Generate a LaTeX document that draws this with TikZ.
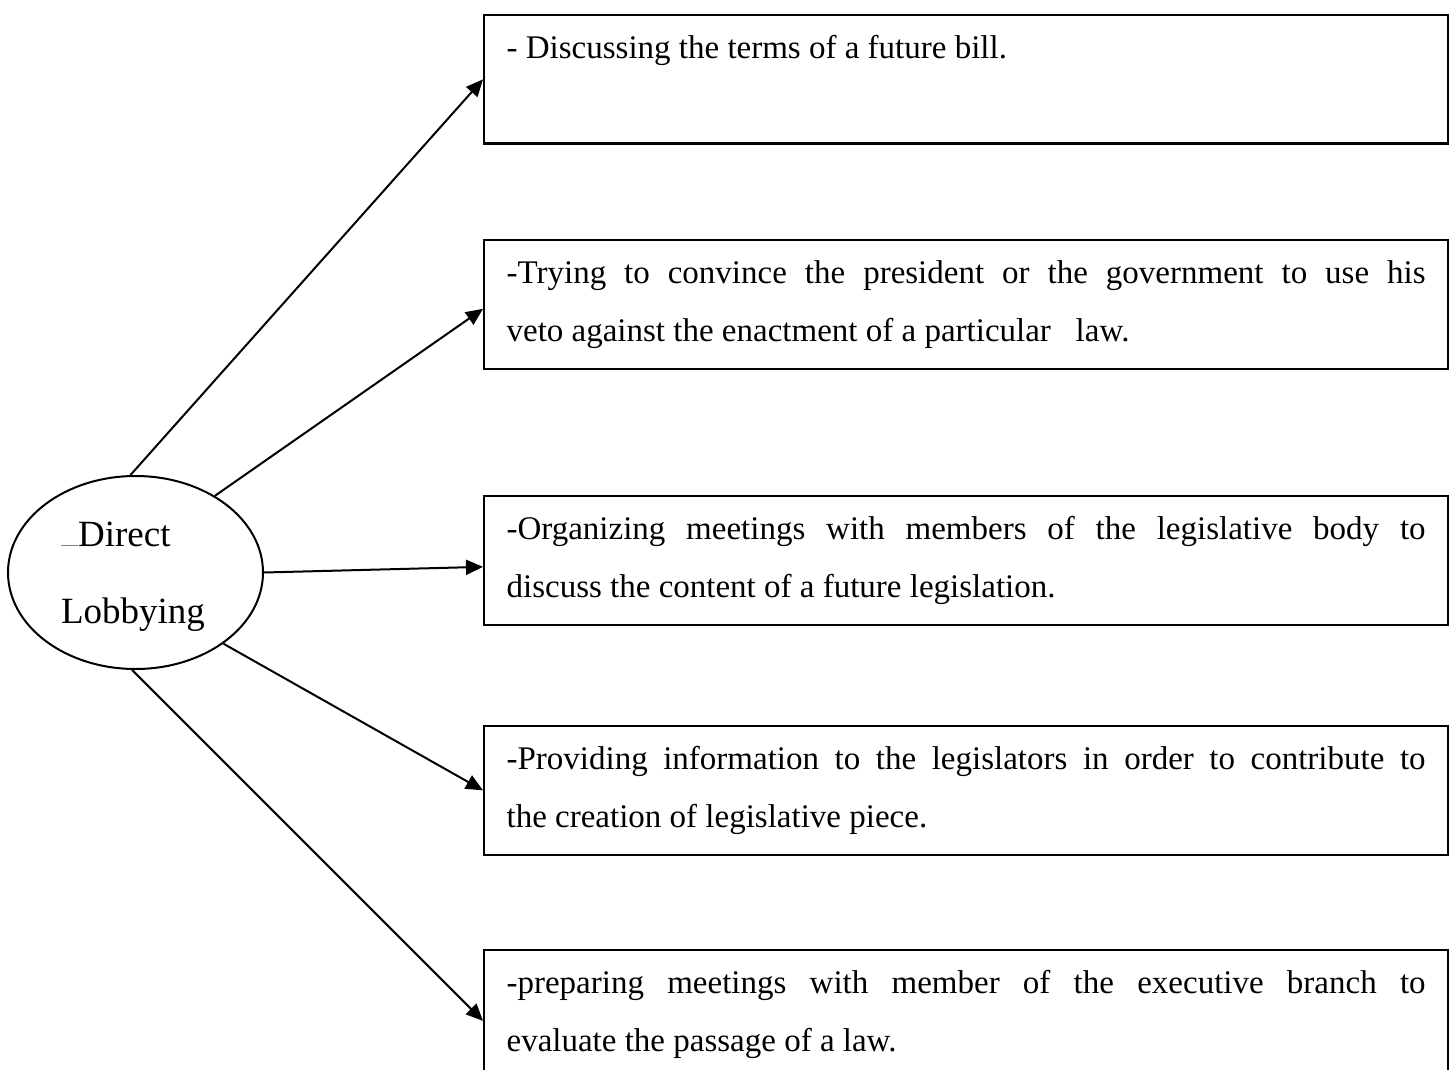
\documentclass[tikz,border=0pt]{standalone}
\usepackage{fontspec}
\setmainfont{Liberation Serif}
\usetikzlibrary{arrows.meta,shapes.geometric}
\hbadness=10000
% text block of an entry box: top-aligned, fixed height, justified
\newcommand{\entrytext}[1]{\parbox[c][122.5pt][t]{919pt}{\strut#1}}
\begin{document}
\begin{tikzpicture}[x=1pt,y=-1pt,
  line width=2.2pt,
  entry/.style={draw, rectangle, anchor=north west, inner xsep=22.5pt,
    inner ysep=3pt, font=\fontsize{33}{58}\selectfont},
  hub/.style={draw, ellipse, minimum width=255pt, minimum height=193pt,
    inner sep=0pt, line width=2pt},
  hubtext/.style={anchor=base west, inner sep=0pt,
    font=\fontsize{37}{44}\selectfont},
  link/.style={-{Triangle[length=17pt,width=15pt]}, line width=2pt}]
\useasboundingbox (0,0) rectangle (1454,1070);
\clip (0,0) rectangle (1454,1070);

% central ellipse
\node[hub] (lob) at (135.5,572.5) {};
\node[hubtext] (lobA) at (60,546)
  {\textcolor{gray}{\rule{17pt}{0.8pt}}Direct};
\node[hubtext] (lobB) at (60,623) {Lobbying};

% activity boxes
\node[entry] (b1) at (483,14)
  {\entrytext{- Discussing the terms of a future bill.}};
\node[entry] (b2) at (483,239)
  {\entrytext{-Trying to convince the president or the government to use his\linebreak
   veto against the enactment of a particular\ \ \ law.}};
\node[entry] (b3) at (483,495)
  {\entrytext{-Organizing meetings with members of the legislative body to\linebreak
   discuss the content of a future legislation.}};
\node[entry] (b4) at (483,725)
  {\entrytext{-Providing information to the legislators in order to contribute to\linebreak
   the creation of legislative piece.}};
\node[entry] (b5) at (483,949)
  {\entrytext{-preparing meetings with member of the executive branch to\linebreak
   evaluate the passage of a law.}};

% connectors
\draw[link] (lob.93) -- (b1.west);
\draw[link] (lob.44) -- ([yshift=-4.5pt]b2.west);
\draw[link] (lob.0) -- ([yshift=-6.5pt]b3.west);
\draw[link] (lob.-39) -- (b4.west);
\draw[link] (lob.-92) -- ([yshift=-6.5pt]b5.west);
\end{tikzpicture}
\end{document}
